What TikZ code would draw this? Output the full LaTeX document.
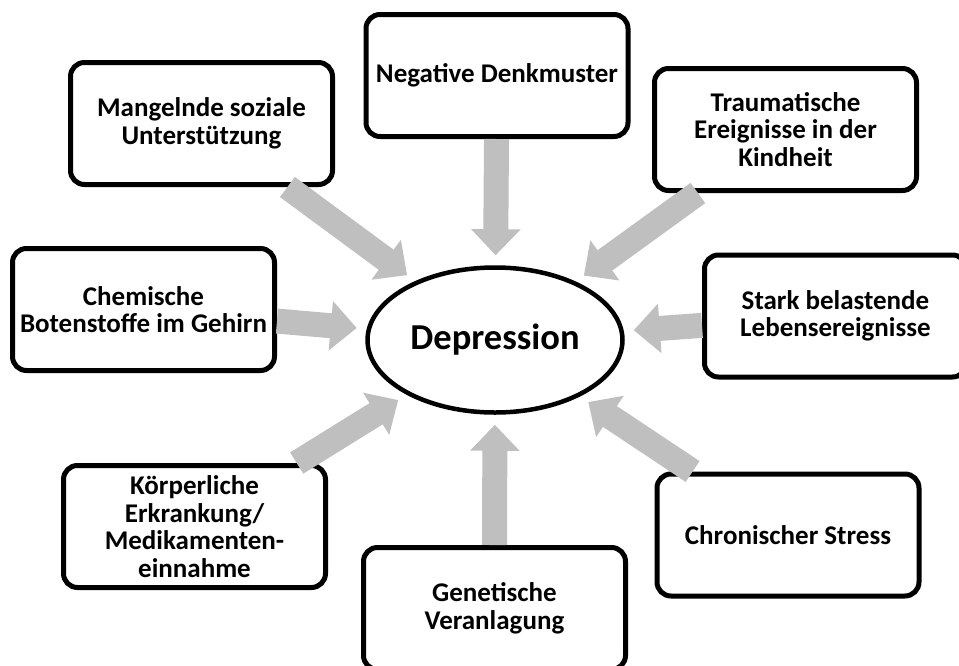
\documentclass[tikz,border=0pt]{standalone}
\usepackage{fontspec}
\setmainfont{Carlito}
\usepackage{tikz}
\usetikzlibrary{shapes.geometric, arrows.meta}
\definecolor{arrowgray}{RGB}{191,191,191}
\tikzset{
    cause/.style={draw, line width=5pt, rounded corners=14pt, fill=white, align=center,
        minimum width=262pt, minimum height=122pt, inner sep=2pt,
        font=\bfseries\fontsize{27}{27.5}\selectfont},
    feed/.style={draw=arrowgray, line width=25pt, -{Triangle[width=48pt, length=26pt]},
        shorten >=10pt}
}
\begin{document}
\begin{tikzpicture}[x=1pt, y=-1pt]
    \clip (0,0) rectangle (959,665);
    \node[draw, ellipse, line width=4.5pt, minimum width=255pt, minimum height=145pt, inner sep=0pt,
        font=\bfseries\fontsize{36.5}{42}\selectfont] (dep) at (495,340) {Depression};
    \node[cause] (unter) at (201.5,123.5) {Mangelnde soziale\\Unterstützung};
    \node[cause] (neg) at (497,75.5) {Negative Denkmuster};
    \node[cause] (trauma) at (785.5,129.5) {Traumatische\\Ereignisse in der\\Kindheit};
    \node[cause] (chem) at (143.5,309.5) {Chemische\\Botenstoffe im Gehirn};
    \node[cause] (stark) at (835.5,316) {Stark belastende\\Lebensereignisse};
    \node[cause] (koerper) at (194.5,526.5) {Körperliche\\Erkrankung/\\Medikamenten-\\einnahme};
    \node[cause] (gen) at (494.5,608.5) {Genetische\\Veranlagung};
    \node[cause] (stress) at (788,535) {Chronischer Stress};
    \draw[feed] (unter) -- (dep);
    \draw[feed] (neg) -- (dep);
    \draw[feed] (trauma) -- (dep);
    \draw[feed] (chem) -- (dep);
    \draw[feed] (stark) -- (dep);
    \draw[feed] (koerper) -- (dep);
    \draw[feed] (gen) -- (dep);
    \draw[feed] (stress) -- (dep);
\end{tikzpicture}
\end{document}
